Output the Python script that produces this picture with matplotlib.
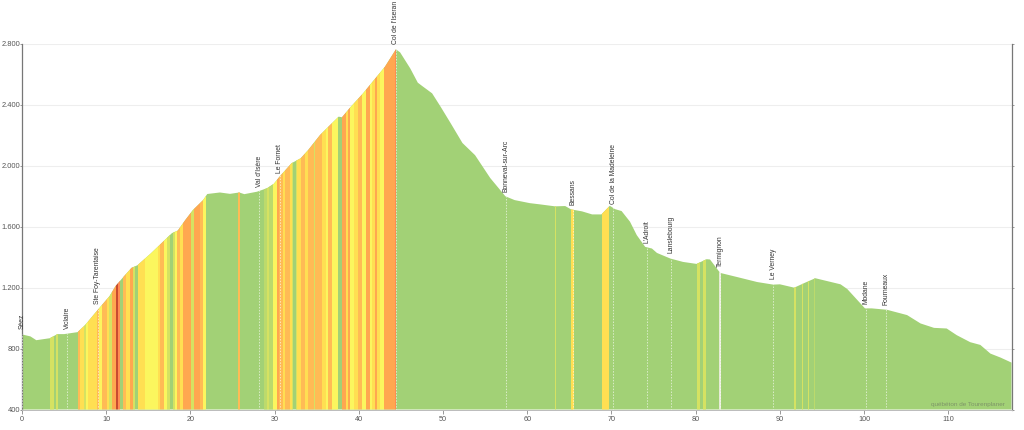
import matplotlib
matplotlib.use("Agg")
import matplotlib.pyplot as plt
import matplotlib.patches as mpatches
import numpy as np

plt.rcParams["font.family"] = ["Liberation Sans", "DejaVu Sans"]

# elevation profile
km = [0, 1, 1.7, 3.3, 4.2, 5, 6.6, 7.5, 8.7, 10.4, 11.1, 12, 13, 13.7, 15.3, 16.9, 17.8, 18.5,
      19.4, 20.3, 21.5, 22, 23.5, 24.7, 25.8, 26.4, 27.9, 29.1, 29.9, 30.6, 32, 33.1, 34, 35.4,
      36.6, 37.6, 38, 39, 40.5, 41.7, 43.1, 44.4, 44.9, 46.1, 47, 47.5, 48.7, 49.7, 50.9, 52.3,
      53.8, 55.6, 57.4, 58.5, 60.3, 61.5, 63.3, 64.5, 65.2, 66.5, 67.7, 68.8, 69.8, 70.4, 71.2,
      72.2, 73, 74, 74.8, 75.4, 77, 78.5, 80.1, 81.3, 81.7, 82.9, 84.9, 87.3, 89.2, 90, 91.7,
      93, 94.2, 97.2, 98, 100.1, 100.9, 102.7, 105.1, 106.7, 108.3, 109.8, 111, 112.6, 113.8,
      115, 116.2, 117.5]
elev = [893, 880, 855, 868, 895, 895, 908, 955, 1035, 1145, 1210, 1268, 1330, 1347, 1425, 1510,
        1558, 1575, 1645, 1710, 1775, 1815, 1825, 1816, 1825, 1814, 1830, 1853, 1882, 1930, 2017,
        2050, 2105, 2203, 2269, 2323, 2319, 2385, 2476, 2557, 2651, 2765, 2745, 2640, 2546, 2525,
        2476, 2389, 2280, 2150, 2070, 1920, 1800, 1775, 1755, 1747, 1734, 1736, 1714, 1701, 1681,
        1681, 1738, 1716, 1703, 1633, 1545, 1468, 1457, 1428, 1391, 1369, 1356, 1387, 1385, 1297,
        1270, 1237, 1220, 1222, 1200, 1233, 1262, 1222, 1191, 1064, 1064, 1055, 1020, 965, 936,
        932, 888, 842, 824, 767, 741, 708]

# gradient bands along the route
band_start = [3.3, 4.05, 6.65, 6.9, 7.4, 7.6, 7.85, 8.9, 9.15, 9.5,
              10.1, 10.35, 10.7, 11.15, 11.4, 11.95, 12.35, 12.85, 13.2, 13.8,
              14.6, 15.2, 16.15, 16.4, 16.85, 17.2, 17.95, 18.2, 18.4, 18.75,
              19.1, 20.05, 20.4, 21.15, 21.5, 25.65,
              28.75, 29.1, 29.35, 29.8, 30.3, 30.5, 31.0, 31.25, 31.85, 32.05,
              32.55, 32.65, 33.15, 33.6, 33.95, 34.7, 34.8, 35.65, 36.1, 36.35,
              36.8, 38.0, 38.5, 38.7, 38.95, 39.45, 39.9, 40.4, 40.6, 40.85,
              41.35, 41.55, 41.9, 42.15, 42.5, 43.0, 43.25, 44.3,
              63.25, 65.2, 68.9, 80.2, 80.85, 82.8, 91.7, 92.6, 93.3, 94.05]
band_end = [3.8, 4.25, 6.9, 7.4, 7.6, 7.85, 8.9, 9.15, 9.5, 10.1,
            10.35, 10.7, 11.15, 11.4, 11.65, 12.35, 12.85, 13.2, 13.4, 14.6,
            15.2, 16.15, 16.4, 16.85, 17.2, 17.6, 18.2, 18.4, 18.75, 19.1,
            20.05, 20.4, 21.15, 21.5, 21.85, 25.9,
            29.1, 29.35, 29.8, 30.3, 30.5, 31.0, 31.25, 31.85, 32.05, 32.2,
            32.65, 33.15, 33.6, 33.95, 34.7, 34.8, 35.65, 36.1, 36.35, 36.8,
            37.55, 38.5, 38.7, 38.95, 39.45, 39.9, 40.4, 40.6, 40.85, 41.35,
            41.55, 41.9, 42.15, 42.5, 43.0, 43.25, 44.3, 44.45,
            63.4, 65.5, 69.75, 80.5, 81.2, 83.0, 91.95, 92.8, 93.5, 94.2]
band_class = ["l", "l", "o", "Y", "l", "y", "Y", "o", "y", "o",
              "Y", "l", "O", "D", "R", "o", "Y", "O", "l", "Y",
              "y", "y", "Y", "o", "y", "l", "l", "y", "o", "Y",
              "O", "l", "O", "o", "y", "o",
              "p", "l", "p", "y", "O", "o", "Y", "o", "Y", "l",
              "l", "Y", "o", "Y", "o", "l", "o", "Y", "y", "o",
              "y", "O", "Y", "O", "y", "Y", "o", "y", "y", "O",
              "y", "Y", "O", "Y", "y", "O", "O", "R",
              "l", "Y", "Y", "l", "l", "w", "l", "l", "l", "p"]

class_colors = {
    "p": "#bcda6c",
    "l": "#d5e262",
    "y": "#fbf65e",
    "Y": "#ffdf52",
    "o": "#ffbb55",
    "O": "#ffa750",
    "R": "#ff8c52",
    "D": "#c94a30",
    "w": "#e6ebd6",
}

# towns on the route
town_names = ["Séez", "Viclaire", "Ste Foy-Tarentaise", "Val d'Isère", "Le Fornet", "Col de l'Iseran",
              "Bonneval-sur-Arc", "Bessans", "Col de la Madeleine", "L'Adroit", "Lanslebourg",
              "Termignon", "Le Verney", "Modane", "Fourneaux"]
town_km = [0, 5.4, 9.0, 28.2, 30.6, 44.4, 57.5, 65.4, 70.2, 74.2, 77.1, 82.9, 89.2, 100.2, 102.6]
label_elev = [930, 930, 1090, 1860, 1955, 2800, 1830, 1740, 1750, 1495, 1430, 1335, 1255, 1095, 1085]

y_ticks = [400, 800, 1200, 1600, 2000, 2400, 2800]
y_labels = ["400", "800", "1.200", "1.600", "2.000", "2.400", "2.800"]
x_ticks = list(range(0, 111, 10))

fig = plt.figure(figsize=(10.24, 4.30), dpi=100)
ax = fig.add_axes([22 / 1024, 20.5 / 430, 989.5 / 1024, 365.5 / 430])
ax.set_xlim(0, 117.5)
ax.set_ylim(400, 2800)

ax.set_axisbelow(True)
ax.grid(axis="y", color="#eeeeee", lw=0.8)

# profile polygon, everything else gets clipped to it
outline = np.column_stack([[km[0]] + km + [km[-1]], [400] + elev + [400]])
profile = mpatches.Polygon(outline, closed=True, facecolor="#a2d176", edgecolor="none", zorder=2)
ax.add_patch(profile)

for start, end, cls in zip(band_start, band_end, band_class):
    span = ax.axvspan(start, end, facecolor=class_colors[cls], edgecolor="none", lw=0, zorder=3)
    span.set_clip_path(profile)

for name, x, y in zip(town_names, town_km, label_elev):
    line = ax.axvline(x, color="white", lw=0.7, ls=(0, (1.5, 1.5)), alpha=0.6, zorder=4)
    line.set_clip_path(profile)
    ax.text(x, y, name, rotation=90, ha="center", va="bottom", fontsize=4.9, color="#333333",
            zorder=5)

ax.text(116.7, 430, "québéton de Tourenplaner", ha="right", va="center", fontsize=4.6,
        color="#7d9468", zorder=5)

ax.set_xticks(x_ticks)
ax.set_yticks(y_ticks)
ax.set_yticklabels(y_labels)
ax.tick_params(axis="x", length=3, width=0.6, color="#888888", labelsize=5.2, labelcolor="#555555", pad=2)
ax.tick_params(axis="y", length=1.5, width=0.6, color="#888888", labelsize=5.4, labelcolor="#555555", pad=0)

ax.spines["top"].set_visible(False)
ax.spines["bottom"].set_color("#bbbbbb")
ax.spines["bottom"].set_linewidth(0.7)
ax.spines["left"].set_color("#777777")
ax.spines["left"].set_linewidth(0.9)
ax.spines["right"].set_color("#777777")
ax.spines["right"].set_linewidth(0.9)

# short ticks on the right hand axis as well
ax.tick_params(axis="y", which="both", right=True)

fig.savefig("out.png", dpi=100)
